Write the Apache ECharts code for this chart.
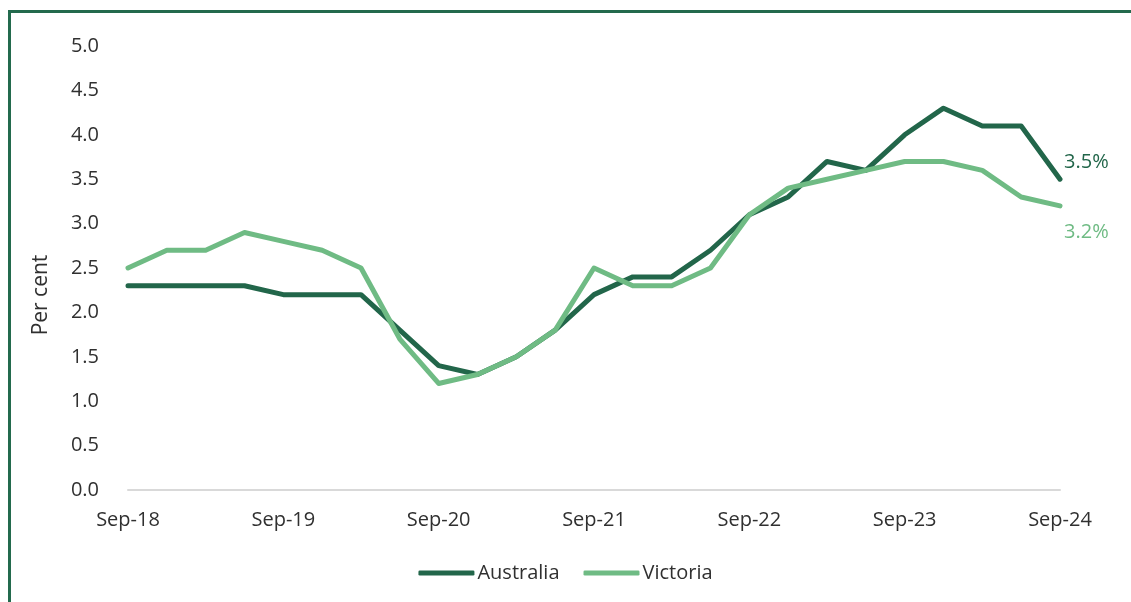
<!DOCTYPE html>
<html>
<head>
<meta charset="utf-8">
<script src="https://cdn.jsdelivr.net/npm/echarts@6/dist/echarts.min.js"></script>
<style>
  html, body { margin: 0; padding: 0; background: #fff; }
  #frame {
    position: absolute; left: 8px; top: 10px; width: 1140px; height: 610px;
    border-top: 3px solid #236a4d; border-left: 3px solid #236a4d;
  }
  #chart { position: absolute; left: 0; top: 0; width: 1131px; height: 602px; }
</style>
</head>
<body>
<div id="frame"></div>
<div id="chart"></div>
<script>
  var quarters = [
    'Sep-18', 'Dec-18', 'Mar-19', 'Jun-19', 'Sep-19', 'Dec-19', 'Mar-20', 'Jun-20',
    'Sep-20', 'Dec-20', 'Mar-21', 'Jun-21', 'Sep-21', 'Dec-21', 'Mar-22', 'Jun-22',
    'Sep-22', 'Dec-22', 'Mar-23', 'Jun-23', 'Sep-23', 'Dec-23', 'Mar-24', 'Jun-24', 'Sep-24'
  ];
  var australia = [2.3, 2.3, 2.3, 2.3, 2.2, 2.2, 2.2, 1.8, 1.4, 1.3, 1.5, 1.8, 2.2,
    2.4, 2.4, 2.7, 3.1, 3.3, 3.7, 3.6, 4.0, 4.3, 4.1, 4.1, 3.5];
  var victoria = [2.5, 2.7, 2.7, 2.9, 2.8, 2.7, 2.5, 1.7, 1.2, 1.3, 1.5, 1.8, 2.5,
    2.3, 2.3, 2.5, 3.1, 3.4, 3.5, 3.6, 3.7, 3.7, 3.6, 3.3, 3.2];

  var dark = '#22664a';
  var light = '#6fbb84';
  var font = 'Open Sans';
  var txt = '#303030';

  var chart = echarts.init(document.getElementById('chart'));
  chart.setOption({
    animation: false,
    textStyle: { fontFamily: font },
    grid: { left: 128, right: 71, top: 46, bottom: 112, containLabel: false },
    graphic: [{
      type: 'text',
      x: 41,
      y: 295,
      rotation: Math.PI / 2,
      style: {
        text: 'Per cent', fontSize: 21, fontFamily: font, fill: txt,
        align: 'center', verticalAlign: 'middle'
      }
    }],
    legend: {
      bottom: 14,
      left: 'center',
      itemWidth: 56,
      itemHeight: 5,
      itemGap: 24,
      textStyle: { fontSize: 20, color: txt, fontFamily: font, padding: [0, 0, 0, -2] },
      data: [
        { name: 'Australia', icon: 'roundRect' },
        { name: 'Victoria', icon: 'roundRect' }
      ]
    },
    xAxis: {
      type: 'category',
      data: quarters,
      boundaryGap: false,
      axisLine: { lineStyle: { color: '#d9d9d9', width: 2 } },
      axisTick: { show: false },
      axisLabel: { interval: 3, fontSize: 20, color: txt, margin: 20 }
    },
    yAxis: {
      type: 'value',
      min: 0,
      max: 5,
      interval: 0.5,
      splitLine: { show: false },
      axisLine: { show: false },
      axisTick: { show: false },
      axisLabel: {
        fontSize: 20, color: txt, margin: 29,
        formatter: function (v) { return v.toFixed(1); }
      }
    },
    series: [
      {
        name: 'Australia',
        type: 'line',
        data: australia,
        showSymbol: false,
        symbol: 'none',
        lineStyle: { color: dark, width: 5, cap: 'round', join: 'round' },
        itemStyle: { color: dark },
        endLabel: {
          show: true,
          distance: 4,
          formatter: function (p) { return p.value.toFixed(1) + '%'; },
          color: dark, fontSize: 20, offset: [0, -17]
        }
      },
      {
        name: 'Victoria',
        type: 'line',
        data: victoria,
        showSymbol: false,
        symbol: 'none',
        lineStyle: { color: light, width: 5, cap: 'round', join: 'round' },
        itemStyle: { color: light },
        endLabel: {
          show: true,
          distance: 4,
          formatter: function (p) { return p.value.toFixed(1) + '%'; },
          color: light, fontSize: 20, offset: [0, 26]
        }
      }
    ]
  });
</script>
</body>
</html>
